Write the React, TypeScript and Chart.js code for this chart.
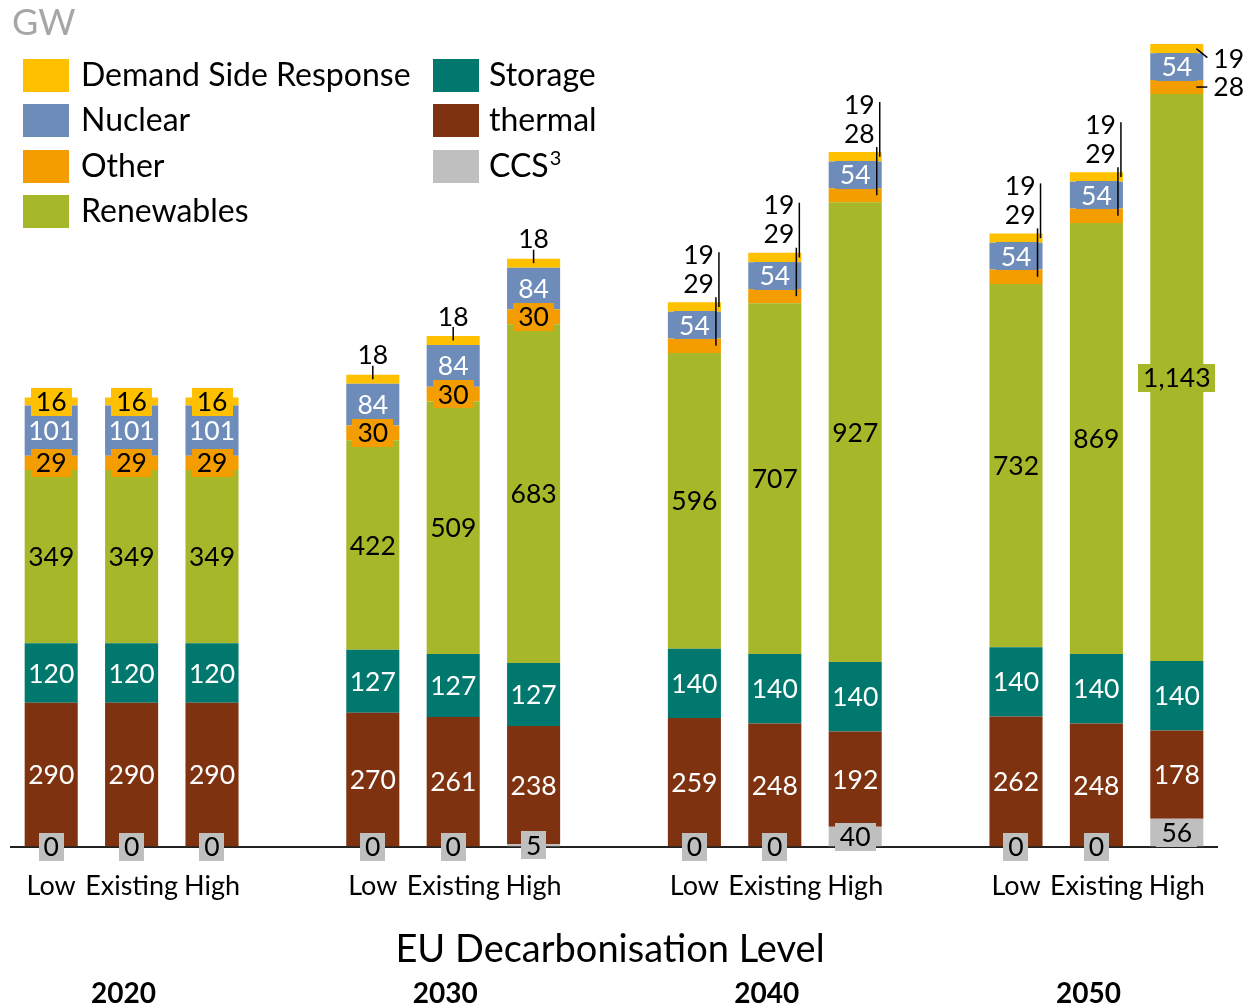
import React, { useEffect, useRef } from 'react';
import { Chart, registerables } from 'chart.js';

Chart.register(...registerables);

const FONT = 'Lato, "Open Sans", sans-serif';

// 15 slots: three scenarios per year, with an empty slot between years
const categories = ['Low', 'Existing', 'High', '', 'Low', 'Existing', 'High', '', 'Low', 'Existing', 'High', '', 'Low', 'Existing', 'High'];
const years = ['2020', '2030', '2040', '2050'];

const ccs = [0, 0, 0, null, 0, 0, 5, null, 0, 0, 40, null, 0, 0, 56];
const thermal = [290, 290, 290, null, 270, 261, 238, null, 259, 248, 192, null, 262, 248, 178];
const storage = [120, 120, 120, null, 127, 127, 127, null, 140, 140, 140, null, 140, 140, 140];
const renewables = [349, 349, 349, null, 422, 509, 683, null, 596, 707, 927, null, 732, 869, 1143];
const other = [29, 29, 29, null, 30, 30, 30, null, 29, 29, 28, null, 29, 29, 28];
const nuclear = [101, 101, 101, null, 84, 84, 84, null, 54, 54, 54, null, 54, 54, 54];
const dsr = [16, 16, 16, null, 18, 18, 18, null, 19, 19, 19, null, 19, 19, 19];

// how the thin top segments are labelled for each bar
const smallLabelMode = ['inside', 'inside', 'inside', '', 'above', 'above', 'above', '', 'leader', 'leader', 'leader', '', 'leader', 'leader', 'side'];

const series = [
  { label: 'CCS', sup: '3', data: ccs, color: '#BFBFBF', text: '#000000' },
  { label: 'thermal', sup: '', data: thermal, color: '#7F3210', text: '#FFFFFF' },
  { label: 'Storage', sup: '', data: storage, color: '#00786E', text: '#FFFFFF' },
  { label: 'Renewables', sup: '', data: renewables, color: '#A6B82A', text: '#000000' },
  { label: 'Other', sup: '', data: other, color: '#F49D00', text: '#000000' },
  { label: 'Nuclear', sup: '', data: nuclear, color: '#6D8CBA', text: '#FFFFFF' },
  { label: 'Demand Side Response', sup: '', data: dsr, color: '#FFC000', text: '#000000' },
];

const legendCol1 = ['Demand Side Response', 'Nuclear', 'Other', 'Renewables'];
const legendCol2 = ['Storage', 'thermal', 'CCS'];

const fmt = (v: number) => v.toLocaleString('en-US');

const labelPlugin = {
  id: 'segLabels',
  afterDatasetsDraw(chart: any) {
    const ctx = chart.ctx as CanvasRenderingContext2D;
    ctx.save();
    ctx.font = `26.5px ${FONT}`;
    ctx.textBaseline = 'middle';
    const metas = series.map((_, i) => chart.getDatasetMeta(i));
    const IDX_OTHER = 4;
    const IDX_DSR = 6;
    const BOX_H = 28;

    const boxed = (txt: string, x: number, y: number, segH: number, barW: number, bg: string, fg: string) => {
      const tw = ctx.measureText(txt).width;
      const w = tw + 10;
      if (segH < BOX_H + 2 || tw > barW - 4) {
        ctx.fillStyle = bg;
        ctx.fillRect(Math.round(x - w / 2), Math.round(y - BOX_H / 2), Math.round(w), BOX_H);
      }
      ctx.fillStyle = fg;
      ctx.textAlign = 'center';
      ctx.fillText(txt, x, y + 1);
    };
    const line = (x1: number, y1: number, x2: number, y2: number) => {
      ctx.strokeStyle = '#000000';
      ctx.lineWidth = 1.5;
      ctx.beginPath();
      ctx.moveTo(x1, y1);
      ctx.lineTo(x2, y2);
      ctx.stroke();
    };

    for (let j = 0; j < categories.length; j++) {
      if (dsr[j] == null) continue;
      const mode = smallLabelMode[j];
      const topEl: any = metas[IDX_DSR].data[j];
      const top = topEl.y;
      const right = topEl.x + topEl.width / 2;
      for (let i = series.length - 1; i >= 0; i--) {
        const el: any = metas[i].data[j];
        const v = series[i].data[j] as number;
        const cy = (el.y + el.base) / 2;
        const txt = fmt(v);
        if (i === IDX_DSR && mode === 'above') {
          ctx.fillStyle = '#000';
          ctx.textAlign = 'center';
          ctx.fillText(txt, el.x, top - 19);
          line(el.x, top - 9, el.x, cy);
        } else if (i === IDX_DSR && mode === 'leader') {
          ctx.fillStyle = '#000';
          ctx.textAlign = 'right';
          ctx.fillText(txt, right - 7, top - 47);
          line(right - 2, top - 50, right - 2, cy);
        } else if (i === IDX_OTHER && mode === 'leader') {
          ctx.fillStyle = '#000';
          ctx.textAlign = 'right';
          ctx.fillText(txt, right - 7, top - 18);
          line(right - 5, top - 5, right - 5, cy);
        } else if (i === IDX_DSR && mode === 'side') {
          ctx.fillStyle = '#000';
          ctx.textAlign = 'left';
          ctx.fillText(txt, right + 10, cy + 11);
          line(right - 7, cy, right + 4, cy + 9);
        } else if (i === IDX_OTHER && mode === 'side') {
          ctx.fillStyle = '#000';
          ctx.textAlign = 'left';
          ctx.fillText(txt, right + 10, cy);
          line(right - 7, cy, right + 4, cy);
        } else {
          boxed(txt, el.x, cy, Math.abs(el.base - el.y), el.width, series[i].color, series[i].text);
        }
      }
    }
    ctx.restore();
  },
  afterDraw(chart: any) {
    const ctx = chart.ctx as CanvasRenderingContext2D;
    ctx.save();
    ctx.textBaseline = 'middle';
    // unit label
    ctx.font = `36px ${FONT}`;
    ctx.fillStyle = '#A6A6A6';
    ctx.textAlign = 'left';
    ctx.fillText('GW', 12, 23);
    // legend
    const find = (name: string) => series.find((s) => s.label === name)!;
    const rowY = [75, 120, 166, 211];
    const drawCol = (names: string[], bx: number, tx: number) => {
      names.forEach((n, k) => {
        const s = find(n);
        ctx.fillStyle = s.color;
        ctx.fillRect(bx, rowY[k] - 16, 46, 33);
        ctx.fillStyle = '#000';
        ctx.font = `32px ${FONT}`;
        ctx.fillText(n, tx, rowY[k] + 1);
        if (s.sup) {
          const w = ctx.measureText(n).width;
          ctx.font = `20px ${FONT}`;
          ctx.fillText(s.sup, tx + w + 1, rowY[k] - 7);
        }
      });
    };
    drawCol(legendCol1, 23, 81);
    drawCol(legendCol2, 433, 489);
    // axis title
    const xs = chart.scales.x;
    const area = chart.chartArea;
    ctx.textAlign = 'center';
    ctx.font = `38px ${FONT}`;
    ctx.fillText('EU Decarbonisation Level', (area.left + area.right) / 2 - 4, 950);
    // years, centred under each group of scenarios
    ctx.font = `bold 28px ${FONT}`;
    years.forEach((yr, g) => {
      const cx = xs.getPixelForValue(g * 4 + 1);
      ctx.fillText(yr, cx - 8, 994);
    });
    ctx.restore();
  },
};

export default function App() {
  const ref = useRef<HTMLCanvasElement | null>(null);
  useEffect(() => {
    if (!ref.current) return;
    const chart = new Chart(ref.current, {
      type: 'bar',
      data: {
        labels: categories,
        datasets: series.map((s) => ({
          label: s.sup ? s.label + '³' : s.label,
          data: s.data,
          backgroundColor: s.color,
          borderWidth: 0,
          categoryPercentage: 1,
          barPercentage: 0.66,
        })),
      },
      options: {
        animation: false,
        responsive: true,
        maintainAspectRatio: false,
        layout: { padding: { left: 11, right: 27, top: 28, bottom: 81 } },
        plugins: { legend: { display: false }, tooltip: { enabled: false }, title: { display: false } },
        scales: {
          x: {
            stacked: true,
            grid: { display: false, drawTicks: false },
            border: { display: true, color: '#222222', width: 2 },
            ticks: {
              autoSkip: false,
              maxRotation: 0,
              padding: 23,
              color: '#000000',
              font: { family: FONT, size: 27 },
            },
          },
          y: { stacked: true, display: false, min: 0, max: 1650 },
        },
      },
      plugins: [labelPlugin],
    } as any);
    return () => chart.destroy();
  }, []);
  return (
    <div style={{ position: 'absolute', left: 0, top: 0, width: 1244, height: 1006 }}>
      <canvas ref={ref} />
    </div>
  );
}
